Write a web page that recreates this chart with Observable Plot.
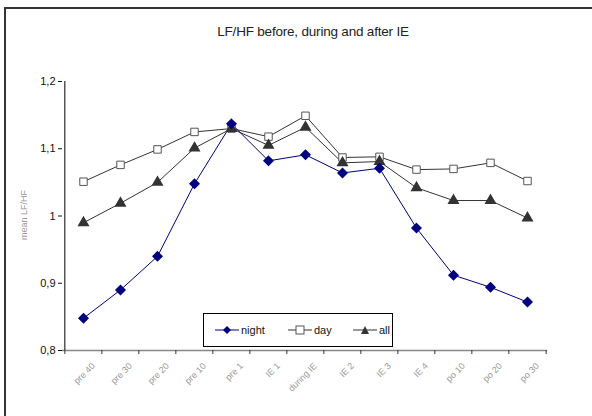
<!DOCTYPE html>
<html><head><meta charset="utf-8">
<script src="https://cdn.jsdelivr.net/npm/d3@7"></script>
<script src="https://cdn.jsdelivr.net/npm/@observablehq/plot@0.6"></script>
<style>
html,body{margin:0;background:#fff;font-family:"Liberation Sans",Arial,sans-serif;overflow:hidden;}
#wrap{position:relative;width:592px;height:416px;overflow:hidden;}
#frame{position:absolute;left:4px;top:7px;width:700px;height:500px;border-left:2px solid #333;border-top:2px solid #333;box-sizing:border-box;}
#title{position:absolute;left:17px;width:592px;top:24px;text-align:center;font-size:13.5px;color:#222;letter-spacing:-0.2px;}
#ylab{position:absolute;left:24px;top:215px;transform:translate(-50%,-50%) rotate(-90deg);font-size:9px;color:#999;white-space:nowrap;}
#legend{position:absolute;left:203px;top:313px;width:190px;height:34px;border:1px solid #000;background:#fff;box-sizing:border-box;font-size:11px;color:#111;}
#legend .it{position:absolute;top:10px;display:flex;align-items:center;}
#plot{position:absolute;left:0;top:0;}
</style></head>
<body><div id="wrap"><div id="frame"></div><div id="plot"></div><div id="title"></div><div id="ylab"></div><div id="legend"></div></div>
<script>
const categories = ["pre 40","pre 30","pre 20","pre 10","pre 1","IE 1","during IE","IE 2","IE 3","IE 4","po 10","po 20","po 30"];
const night = [0.848,0.890,0.940,1.048,1.137,1.082,1.091,1.064,1.071,0.982,0.912,0.894,0.872];
const day   = [1.051,1.076,1.099,1.125,1.130,1.118,1.149,1.087,1.088,1.069,1.070,1.079,1.052];
const all   = [0.990,1.019,1.050,1.101,1.130,1.105,1.132,1.079,1.081,1.042,1.023,1.023,0.997];
const yTicks = [0.8,0.9,1.0,1.1,1.2];
const seriesNames = ["night","day","all"];
const titleText = "LF/HF before, during and after IE";
const yLabel = "mean LF/HF";

const rows = [];
categories.forEach((c,i)=>{
  rows.push({cat:c,series:"night",v:night[i]});
  rows.push({cat:c,series:"day",v:day[i]});
  rows.push({cat:c,series:"all",v:all[i]});
});
const W=592,H=416,mL=62,mR=45,mT=81,mB=66;
const step=(W-mL-mR)/categories.length;
const fmt = d=> String(d).replace(".",",");
const sub = s=>rows.filter(r=>r.series===s);
const chart = Plot.plot({
  width:W,height:H,marginLeft:mL,marginRight:mR,marginTop:mT,marginBottom:mB,
  style:{fontFamily:"Liberation Sans, Arial, sans-serif",fontSize:"11px",background:"transparent",color:"#111"},
  x:{type:"point",domain:categories,padding:0.5,axis:null},
  y:{domain:[0.8,1.2]},
  marks:[
    Plot.axisY({ticks:yTicks,tickFormat:fmt,tickSize:4,tickPadding:3,label:null,fontSize:11}),
    Plot.ruleY([0.8],{stroke:"#888",strokeWidth:1.5}),
    Plot.ruleX(categories,{x:d=>d,y1:0.8,y2:0.8-4/670,dx:-step/2,stroke:"#333"}),
    Plot.ruleX([categories[categories.length-1]],{x:d=>d,y1:0.8,y2:0.8-4/670,dx:step/2,stroke:"#333"}),
    Plot.ruleX([categories[0]],{x:d=>d,y1:0.8,y2:1.2,dx:-step/2,stroke:"#000"}),
    Plot.text(categories,{x:d=>d,y:0.8,text:d=>d,rotate:-45,textAnchor:"end",dx:10,dy:14,fill:"#999",fontSize:9}),
    Plot.line(sub("day"),{x:"cat",y:"v",stroke:"#333",strokeWidth:1}),
    Plot.line(sub("all"),{x:"cat",y:"v",stroke:"#333",strokeWidth:1}),
    Plot.line(sub("night"),{x:"cat",y:"v",stroke:"#000080",strokeWidth:1}),
    Plot.dot(sub("day"),{x:"cat",y:"v",symbol:"square",r:4.2,fill:"#fff",stroke:"#555",strokeWidth:1}),
    Plot.dot(sub("all"),{x:"cat",y:"v",symbol:"triangle",r:3.5,fill:"#333",stroke:"#333"}),
    Plot.dot(sub("night"),{x:"cat",y:"v",symbol:"diamond2",r:4,fill:"#000080",stroke:"#000080"})
  ]
});
document.getElementById("plot").appendChild(chart);
document.getElementById("title").textContent = titleText;
document.getElementById("ylab").textContent = yLabel;
const lg = document.getElementById("legend");
const sym = {
  night:'<line x1="0" y1="5" x2="24" y2="5" stroke="#000080"/><path d="M12,1 L16,5 L12,9 L8,5Z" fill="#000080"/>',
  day:'<line x1="0" y1="5" x2="24" y2="5" stroke="#333"/><rect x="8" y="1" width="8" height="8" fill="#fff" stroke="#555"/>',
  all:'<line x1="0" y1="5" x2="24" y2="5" stroke="#333"/><path d="M12,1 L16,9 L8,9Z" fill="#333"/>'
};
const lefts=[11,84,149];
seriesNames.forEach((s,i)=>{
  const d=document.createElement("div");d.className="it";d.style.left=lefts[i]+"px";
  d.innerHTML='<svg width="24" height="10" style="margin-right:2px">'+sym[s]+'</svg><span>'+s+'</span>';
  lg.appendChild(d);
});
</script></body></html>
